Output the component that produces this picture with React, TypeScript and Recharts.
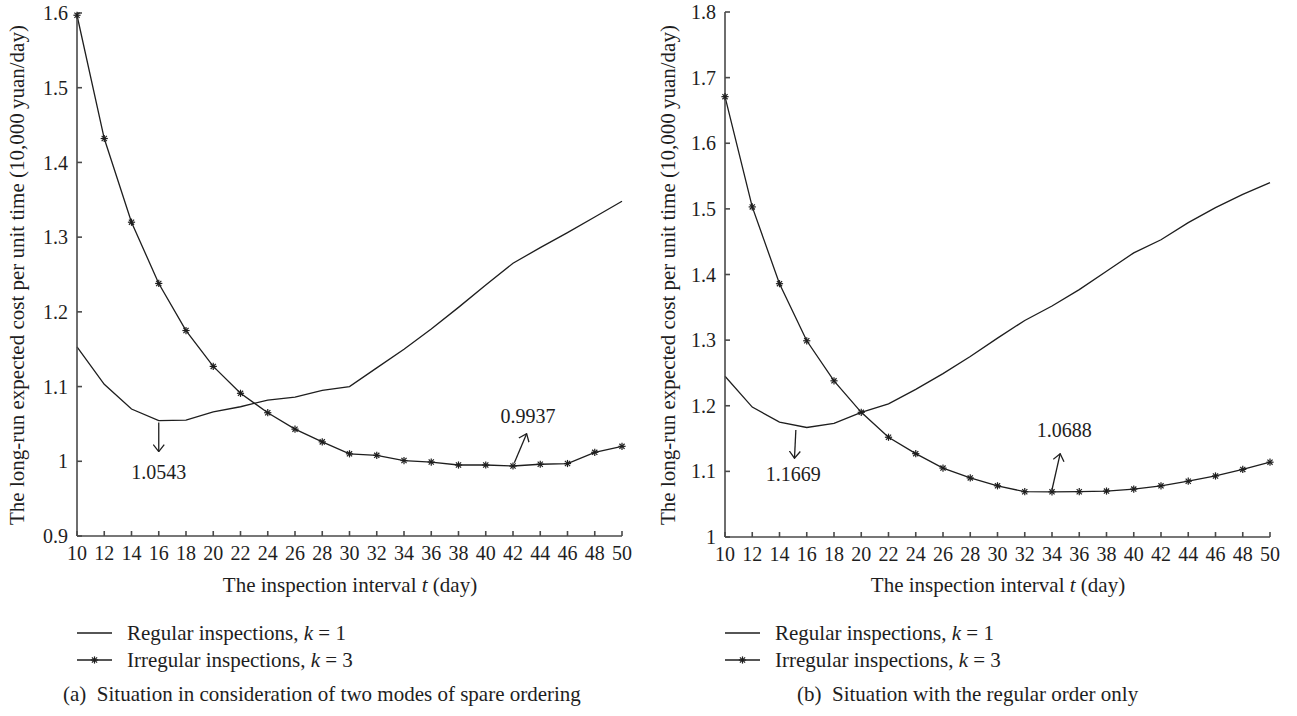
import React from "react";
import {
  LineChart,
  Line,
  XAxis,
  YAxis,
  ReferenceLine,
  ReferenceDot,
} from "recharts";

const days = [10, 12, 14, 16, 18, 20, 22, 24, 26, 28, 30, 32, 34, 36, 38, 40, 42, 44, 46, 48, 50];

// (a) two modes of spare ordering
const regularA = [1.153, 1.103, 1.07, 1.0543, 1.055, 1.066, 1.073, 1.082, 1.086, 1.095, 1.1, 1.125, 1.15, 1.177, 1.206, 1.236, 1.265, 1.286, 1.306, 1.327, 1.348];
const irregularA = [1.597, 1.432, 1.32, 1.238, 1.175, 1.127, 1.091, 1.065, 1.043, 1.026, 1.01, 1.008, 1.001, 0.999, 0.995, 0.995, 0.9937, 0.996, 0.997, 1.012, 1.02];

// (b) regular order only
const regularB = [1.245, 1.198, 1.175, 1.1669, 1.173, 1.19, 1.203, 1.225, 1.249, 1.275, 1.303, 1.33, 1.352, 1.377, 1.405, 1.433, 1.453, 1.479, 1.502, 1.522, 1.54];
const irregularB = [1.671, 1.503, 1.386, 1.299, 1.238, 1.19, 1.152, 1.127, 1.105, 1.09, 1.078, 1.069, 1.0688, 1.069, 1.07, 1.073, 1.078, 1.085, 1.093, 1.103, 1.114];

const yTicksA = [0.9, 1, 1.1, 1.2, 1.3, 1.4, 1.5, 1.6];
const yTicksB = [1, 1.1, 1.2, 1.3, 1.4, 1.5, 1.6, 1.7, 1.8];

// minimum-value callouts, in data units
const notesA = [
  { from: [16, 1.052], to: [16, 1.013], text: "1.0543", at: [16, 0.986] },
  { from: [42.1, 0.998], to: [43, 1.037], text: "0.9937", at: [43.1, 1.061] },
];
const notesB = [
  { from: [15.2, 1.163], to: [15.1, 1.12], text: "1.1669", at: [15, 1.096] },
  { from: [34, 1.072], to: [34.6, 1.127], text: "1.0688", at: [34.9, 1.163] },
];

const FONT = "'Liberation Serif', 'Times New Roman', serif";
const INK = "#1e1e1e";
const AXIS = "#4a4a4a";

const dataA = days.map((t, i) => ({ t, reg: regularA[i], irr: irregularA[i] }));
const dataB = days.map((t, i) => ({ t, reg: regularB[i], irr: irregularB[i] }));

function Star(props: any) {
  const { cx, cy } = props;
  if (cx == null || cy == null) return null;
  const r = 3.6;
  const d = r * 0.72;
  return (
    <g stroke={INK} strokeWidth={1.2}>
      <line x1={cx - r} y1={cy} x2={cx + r} y2={cy} />
      <line x1={cx} y1={cy - r} x2={cx} y2={cy + r} />
      <line x1={cx - d} y1={cy - d} x2={cx + d} y2={cy + d} />
      <line x1={cx - d} y1={cy + d} x2={cx + d} y2={cy - d} />
    </g>
  );
}

function ArrowShape(props: any) {
  const { x1, y1, x2, y2 } = props;
  if ([x1, y1, x2, y2].some((v) => v == null)) return null;
  return (
    <line x1={x1} y1={y1} x2={x2} y2={y2} stroke={INK} strokeWidth={1.3} markerEnd="url(#openArrow)" />
  );
}

function Panel({
  data,
  domain,
  ticks,
  notes,
  top,
  bottom,
}: {
  data: any[];
  domain: [number, number];
  ticks: number[];
  notes: typeof notesA;
  top: number;
  bottom: number;
}) {
  const tickStyle = { fontSize: 20, fill: INK, fontFamily: FONT };
  return (
    <LineChart width={648} height={600} data={data} margin={{ top, right: 26, bottom, left: 0 }}>
      <XAxis
        dataKey="t"
        type="number"
        domain={[10, 50]}
        ticks={days}
        interval={0}
        height={30}
        tick={tickStyle}
        tickSize={-5}
        tickMargin={15}
        stroke={AXIS}
        strokeWidth={1.6}
      />
      <YAxis
        type="number"
        domain={domain}
        ticks={ticks}
        interval={0}
        width={77}
        tick={tickStyle}
        tickSize={-5}
        tickMargin={14}
        stroke={AXIS}
        strokeWidth={1.6}
      />
      <Line
        dataKey="reg"
        stroke={INK}
        strokeWidth={1.3}
        dot={false}
        activeDot={false}
        isAnimationActive={false}
      />
      <Line
        dataKey="irr"
        stroke={INK}
        strokeWidth={1.3}
        dot={<Star />}
        activeDot={false}
        isAnimationActive={false}
      />
      {notes.map((n, i) => (
        <ReferenceLine
          key={"a" + i}
          segment={[
            { x: n.from[0], y: n.from[1] },
            { x: n.to[0], y: n.to[1] },
          ]}
          shape={<ArrowShape />}
        />
      ))}
      {notes.map((n, i) => (
        <ReferenceDot
          key={"d" + i}
          x={n.at[0]}
          y={n.at[1]}
          r={0}
          fill="none"
          stroke="none"
          label={{ value: n.text, position: "center", fontSize: 20, fill: INK, fontFamily: FONT }}
        />
      ))}
    </LineChart>
  );
}

function LegendBlock({ left, caption, captionLeft }: { left: number; caption: string; captionLeft: number }) {
  const row = (y: number, withStar: boolean, label: React.ReactNode) => (
    <div style={{ position: "absolute", left, top: y - 12, height: 24, display: "flex", alignItems: "center" }}>
      <svg width={36} height={12} style={{ display: "block" }}>
        <line x1={0} y1={6} x2={35} y2={6} stroke={INK} strokeWidth={1.3} />
        {withStar && <Star cx={17.5} cy={6} />}
      </svg>
      <span style={{ marginLeft: 14, whiteSpace: "nowrap" }}>{label}</span>
    </div>
  );
  return (
    <>
      {row(633, false, <>Regular inspections, <i>k</i> = 1</>)}
      {row(660, true, <>Irregular inspections, <i>k</i> = 3</>)}
      <div style={{ position: "absolute", left: captionLeft, top: 682, whiteSpace: "nowrap", lineHeight: "24px" }}>
        {caption}
      </div>
    </>
  );
}

const yTitle = "The long-run expected cost per unit time (10,000\u2009yuan/day)";

function AxisTitles({ yCenterX, xCenterX }: { yCenterX: number; xCenterX: number }) {
  return (
    <>
      <div
        style={{
          position: "absolute",
          left: yCenterX - 300,
          top: 275 - 12,
          width: 600,
          height: 24,
          lineHeight: "24px",
          textAlign: "center",
          transform: "rotate(-90deg)",
          whiteSpace: "nowrap",
        }}
      >
        {yTitle}
      </div>
      <div
        style={{
          position: "absolute",
          left: xCenterX - 200,
          top: 585 - 12,
          width: 400,
          lineHeight: "24px",
          textAlign: "center",
          whiteSpace: "nowrap",
        }}
      >
        The inspection interval <i>t</i> (day)
      </div>
    </>
  );
}

export default function App() {
  return (
    <div
      style={{
        position: "absolute",
        left: 0,
        top: 0,
        width: 1297,
        height: 716,
        background: "#fff",
        fontFamily: FONT,
        fontSize: 21,
        color: INK,
        overflow: "hidden",
      }}
    >
      <svg width={0} height={0} style={{ position: "absolute" }}>
        <defs>
          <marker
            id="openArrow"
            viewBox="0 0 8 12"
            refX={7.5}
            refY={6}
            markerWidth={8}
            markerHeight={12}
            markerUnits="userSpaceOnUse"
            orient="auto"
          >
            <path d="M0.5,0.5 L7.5,6 L0.5,11.5" fill="none" stroke={INK} strokeWidth={1.3} />
          </marker>
        </defs>
      </svg>

      <div style={{ position: "absolute", left: 0, top: 0 }}>
        <Panel data={dataA} domain={[0.9, 1.6]} ticks={yTicksA} notes={notesA} top={13} bottom={34} />
      </div>
      <div style={{ position: "absolute", left: 648, top: 0 }}>
        <Panel data={dataB} domain={[1, 1.8]} ticks={yTicksB} notes={notesB} top={12} bottom={33} />
      </div>

      <AxisTitles yCenterX={17} xCenterX={350} />
      <AxisTitles yCenterX={668} xCenterX={998} />

      <LegendBlock left={77} caption={"(a)\u2002Situation in consideration of two modes of spare ordering"} captionLeft={63} />
      <LegendBlock left={725} caption={"(b)\u2002Situation with the regular order only"} captionLeft={797} />
    </div>
  );
}
